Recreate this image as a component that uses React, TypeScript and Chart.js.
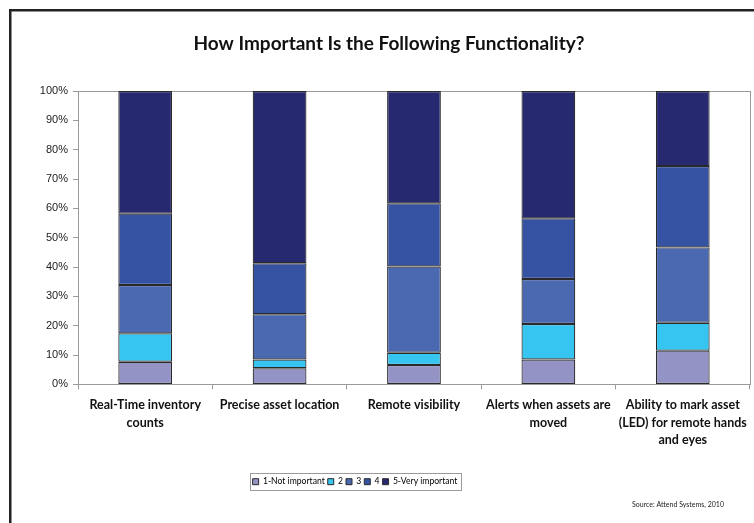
import React, { useEffect, useRef } from "react";
import { Chart, registerables } from "chart.js";

Chart.register(...registerables);

const categories: string[][] = [
  ["Real-Time inventory", "counts"],
  ["Precise asset location"],
  ["Remote visibility"],
  ["Alerts when assets are", "moved"],
  ["Ability to mark asset", "(LED) for remote hands", "and eyes"],
];

const seriesNames = ["1-Not important", "2", "3", "4", "5-Very important"];
const notImportant = [7.7, 5.5, 6.6, 8.5, 11.5];
const level2 = [9.7, 3.0, 4.2, 12.1, 9.5];
const level3 = [16.5, 15.4, 29.4, 15.3, 25.7];
const level4 = [24.3, 17.4, 21.5, 20.7, 27.7];
const veryImportant = [41.8, 58.7, 38.3, 43.4, 25.6];
const seriesColors = ["#9493C6", "#35C5F0", "#4A69B0", "#3652A2", "#262970"];

const titleText = "How Important Is the Following Functionality?";
const sourceText = "Source: Attend Systems, 2010";

const FONT = "Lato, 'Open Sans', sans-serif";

export default function App() {
  const ref = useRef<HTMLCanvasElement | null>(null);

  useEffect(() => {
    if (!ref.current) return;
    const values = [notImportant, level2, level3, level4, veryImportant];

    const framePlugin = {
      id: "frameExtras",
      afterLayout(chart: any) {
        if (chart.titleBlock) {
          chart.titleBlock.left += 26;
        }
        const lg = chart.legend;
        if (lg) {
          const d = -21;
          lg.left += d;
          lg.right += d;
          (lg.legendHitBoxes || []).forEach((h: any) => {
            h.left += d;
          });
        }
      },
      beforeDatasetsDraw(chart: any) {
        const { ctx, chartArea } = chart;
        ctx.save();
        ctx.strokeStyle = "#9a9a9a";
        ctx.lineWidth = 1;
        ctx.strokeRect(
          Math.round(chartArea.left) + 0.5,
          Math.round(chartArea.top) + 0.5,
          Math.round(chartArea.right - chartArea.left),
          Math.round(chartArea.bottom - chartArea.top)
        );
        ctx.restore();
      },
      afterDraw(chart: any) {
        const { ctx } = chart;
        ctx.save();
        const boxes = chart.legend?.legendHitBoxes || [];
        if (boxes.length) {
          let l = Infinity, r = -Infinity, t = Infinity, b = -Infinity;
          boxes.forEach((h: any) => {
            l = Math.min(l, h.left);
            r = Math.max(r, h.left + h.width);
            t = Math.min(t, h.top);
            b = Math.max(b, h.top + h.height);
          });
          ctx.strokeStyle = "#9a9a9a";
          ctx.lineWidth = 1;
          ctx.strokeRect(Math.round(l - 3) + 0.5, Math.round(t - 4) + 0.5, Math.round(r - l + 6), Math.round(b - t + 8));
        }
        ctx.fillStyle = "#222";
        ctx.font = `7px ${FONT}`;
        ctx.textAlign = "left";
        ctx.textBaseline = "middle";
        ctx.fillText(sourceText, 632, 505);
        ctx.fillStyle = "#222";
        ctx.fillRect(9, 9, 2.5, 523);
        ctx.fillRect(9, 9, 754, 2.5);
        ctx.restore();
      },
    };

    const chart = new Chart(ref.current, {
      type: "bar",
      data: {
        labels: categories,
        datasets: seriesNames.map((name, i) => ({
          label: name,
          data: values[i],
          backgroundColor: seriesColors[i],
          borderColor: "#2a2a2a",
          borderWidth: 1.2,
          borderSkipped: false,
          barPercentage: 0.4,
          categoryPercentage: 1,
        })),
      },
      options: {
        animation: false,
        responsive: false,
        maintainAspectRatio: false,
        layout: { padding: { top: 0, left: 0, right: 2, bottom: 27 } },
        plugins: {
          title: {
            display: true,
            text: titleText,
            color: "#111",
            font: { family: FONT, size: 19, weight: "bold" },
            padding: { top: 32.6, bottom: 35.6 },
          },
          legend: {
            position: "bottom",
            labels: {
              color: "#222",
              font: { family: FONT, size: 8.6 },
              boxWidth: 6,
              boxHeight: 6,
              padding: 3,
              generateLabels: (chart: any) =>
                chart.data.datasets.map((ds: any, i: number) => ({
                  text: ds.label,
                  fillStyle: seriesColors[i],
                  strokeStyle: "#2a2a2a",
                  lineWidth: 1,
                  datasetIndex: i,
                  hidden: false,
                })),
            },
          },
          tooltip: { enabled: false },
        },
        scales: {
          x: {
            stacked: true,
            offset: true,
            grid: {
              display: true,
              offset: true,
              drawOnChartArea: false,
              tickLength: 5,
              color: "#9a9a9a",
            },
            border: { display: true, color: "#9a9a9a" },
            ticks: {
              maxRotation: 0,
              autoSkip: false,
              padding: 7,
              color: "#111",
              font: { family: FONT, size: 12.5, weight: "bold", lineHeight: 1.4 },
            },
            afterFit: (scale: any) => {
              scale.height = 90;
            },
          },
          y: {
            stacked: true,
            min: 0,
            max: 100,
            grid: {
              display: true,
              drawOnChartArea: false,
              tickLength: 5,
              color: "#9a9a9a",
            },
            border: { display: true, color: "#9a9a9a" },
            ticks: {
              stepSize: 10,
              padding: 5,
              color: "#222",
              font: { family: "'Liberation Sans', Arial, sans-serif", size: 11 },
              callback: (v: any) => `${v}%`,
            },
            afterFit: (scale: any) => {
              scale.width = 78;
            },
          },
        },
      },
      plugins: [framePlugin],
    });
    return () => chart.destroy();
  }, []);

  return (
    <div style={{ position: "fixed", left: 0, top: 0, width: 754, height: 523, background: "#fff" }}>
      <canvas ref={ref} width={754} height={523} style={{ display: "block", width: 754, height: 523 }} />
    </div>
  );
}
